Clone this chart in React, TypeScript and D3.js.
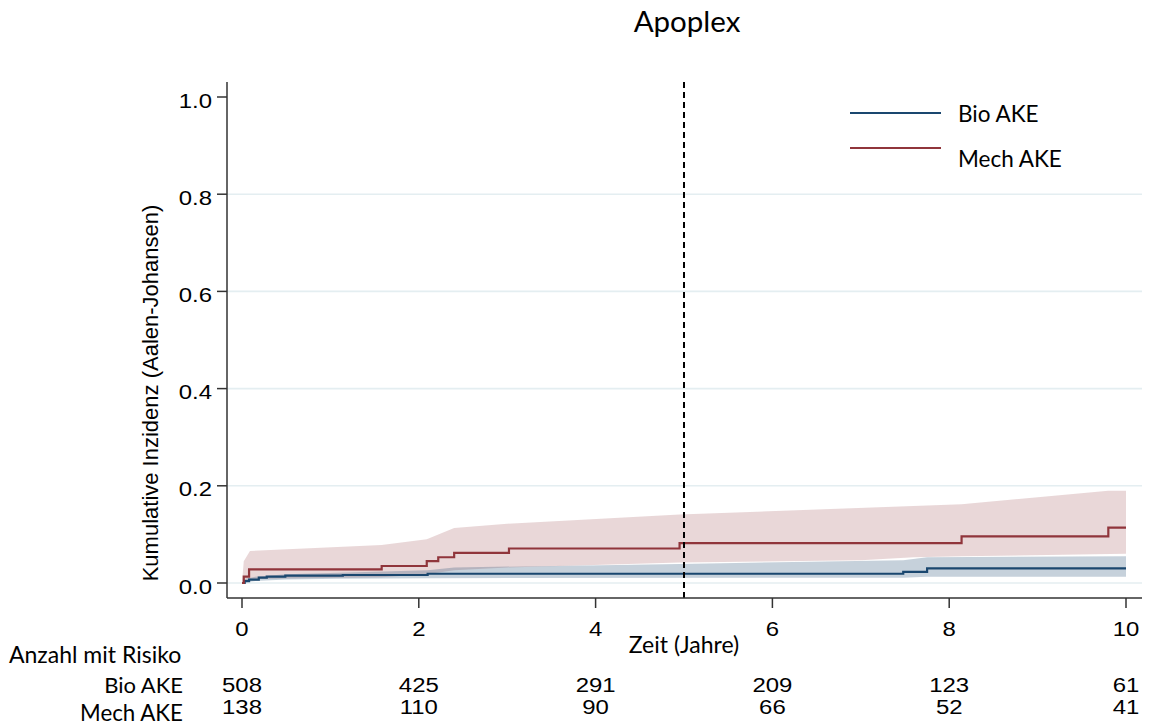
import React from "react";
import * as d3 from "d3";

// ---------- data ----------
const bioTimes = [0, 0.03, 0.08, 0.19, 0.28, 0.49, 1.14, 2.1, 7.48, 7.75];
const bioCif = [0, 0.004, 0.007, 0.011, 0.013, 0.015, 0.0165, 0.019, 0.023, 0.03];
const mechTimes = [0, 0.02, 0.08, 1.58, 2.09, 2.22, 2.4, 3.02, 4.95, 8.14, 9.8];
const mechCif = [0, 0.013, 0.028, 0.035, 0.045, 0.053, 0.062, 0.071, 0.082, 0.096, 0.114];

const mechUpperT = [0, 0.02, 0.09, 1.58, 2.09, 2.4, 3.0, 4.95, 8.14, 9.8, 10];
const mechUpper = [0, 0.045, 0.066, 0.078, 0.09, 0.113, 0.122, 0.141, 0.162, 0.19, 0.19];
const mechLowerT = [0, 0.02, 0.09, 1.58, 2.09, 2.4, 3.0, 4.95, 7.0, 7.6, 8.14, 10];
const mechLower = [0, 0.002, 0.008, 0.012, 0.018, 0.026, 0.032, 0.042, 0.047, 0.053, 0.055, 0.06];

const bioUpperT = [0, 0.03, 0.15, 0.5, 1.1, 2.1, 2.4, 4.95, 7.48, 7.75, 10];
const bioUpper = [0, 0.008, 0.013, 0.018, 0.021, 0.026, 0.032, 0.039, 0.047, 0.053, 0.055];
const bioLowerT = [0, 0.03, 0.15, 0.5, 1.1, 2.1, 7.48, 7.75, 10];
const bioLower = [0, 0.001, 0.004, 0.007, 0.009, 0.01, 0.011, 0.013, 0.013];

const xTicks = [0, 2, 4, 6, 8, 10];
const yTicks = [0, 0.2, 0.4, 0.6, 0.8, 1.0];
const gridTicks = [0, 0.2, 0.4, 0.6, 0.8];
const riskBio = [508, 425, 291, 209, 123, 61];
const riskMech = [138, 110, 90, 66, 52, 41];
const refTime = 5;

const BLUE = "#1a476f";
const RED = "#90353b";
const CAL = "Lato, 'Open Sans', sans-serif";
const ARIAL = "'Liberation Sans', Arial, sans-serif";
const SX = 1.14;

function SText(props: {
  x: number;
  y: number;
  anchor?: "start" | "middle" | "end";
  size: number;
  font: string;
  sx?: number;
  children: React.ReactNode;
}) {
  const { x, y, anchor = "start", size, font, sx = 1, children } = props;
  return (
    <g transform={`translate(${x},${y}) scale(${sx},1)`}>
      <text x={0} y={0} textAnchor={anchor} fontFamily={font} fontSize={size} fill="#000">
        {children}
      </text>
    </g>
  );
}

export default function App() {
  const x = d3.scaleLinear().domain([0, 10]).range([242, 1126]);
  const y = d3.scaleLinear().domain([0, 1]).range([583, 97]);
  const axisY = 598;
  const axisX = 227;

  const stepLine = (ts: number[], vs: number[]) => {
    const pts: [number, number][] = ts.map((t, i) => [t, vs[i]]);
    pts.push([10, vs[vs.length - 1]]);
    return d3
      .line<[number, number]>()
      .x((d) => x(d[0]))
      .y((d) => y(d[1]))
      .curve(d3.curveStepAfter)(pts) as string;
  };

  const band = (ut: number[], u: number[], lt: number[], l: number[]) => {
    const up = ut.map((t, i) => [x(t), y(u[i])]);
    const lo = lt.map((t, i) => [x(t), y(l[i])]).reverse();
    return "M" + up.concat(lo).map((p) => p.join(",")).join("L") + "Z";
  };

  return (
    <svg
      width={1149}
      height={728}
      style={{ position: "absolute", left: 0, top: 0, background: "#fff" }}
    >
      <rect width={1149} height={728} fill="#fff" />
      <SText x={687} y={32} anchor="middle" size={29.5} font={CAL}>
        Apoplex
      </SText>

      {gridTicks.map((t) => (
        <line key={t} x1={axisX} x2={1142} y1={y(t)} y2={y(t)} stroke="#e4eef1" strokeWidth={1.6} />
      ))}

      <path d={band(mechUpperT, mechUpper, mechLowerT, mechLower)} fill={RED} fillOpacity={0.2} />
      <path d={band(bioUpperT, bioUpper, bioLowerT, bioLower)} fill={BLUE} fillOpacity={0.25} />

      <path d={stepLine(bioTimes, bioCif)} fill="none" stroke={BLUE} strokeWidth={2.2} />
      <path d={stepLine(mechTimes, mechCif)} fill="none" stroke={RED} strokeWidth={2.2} />

      <line x1={x(refTime)} x2={x(refTime)} y1={82} y2={axisY} stroke="#000" strokeWidth={2} strokeDasharray="6,4" />

      {/* axes */}
      <line x1={axisX} x2={axisX} y1={82} y2={axisY} stroke="#333" strokeWidth={1.5} />
      <line x1={axisX} x2={1142} y1={axisY} y2={axisY} stroke="#333" strokeWidth={1.5} />
      {yTicks.map((t) => (
        <g key={t}>
          <line x1={axisX - 10} x2={axisX} y1={y(t)} y2={y(t)} stroke="#333" strokeWidth={1.5} />
          <SText x={212} y={y(t) + 10.5} anchor="end" size={21} font={ARIAL} sx={SX}>
            {t.toFixed(1)}
          </SText>
        </g>
      ))}
      {xTicks.map((t) => (
        <g key={t}>
          <line x1={x(t)} x2={x(t)} y1={axisY} y2={axisY + 10} stroke="#333" strokeWidth={1.5} />
          <SText x={x(t)} y={636} anchor="middle" size={21} font={ARIAL} sx={SX}>
            {t}
          </SText>
        </g>
      ))}
      <SText x={684} y={653} anchor="middle" size={23} font={CAL}>
        Zeit (Jahre)
      </SText>
      <text
        transform={`translate(158,393) rotate(-90)`}
        textAnchor="middle"
        fontFamily={ARIAL}
        fontSize={22}
        fill="#000"
      >
        Kumulative Inzidenz (Aalen-Johansen)
      </text>

      {/* legend */}
      <line x1={850} x2={941} y1={113} y2={113} stroke={BLUE} strokeWidth={2.2} />
      <SText x={958} y={122} size={22.5} font={CAL}>
        Bio AKE
      </SText>
      <line x1={850} x2={941} y1={148} y2={148} stroke={RED} strokeWidth={2.2} />
      <SText x={958} y={167} size={22.5} font={CAL}>
        Mech AKE
      </SText>

      {/* risk table */}
      <SText x={9} y={663} size={23} font={CAL}>
        Anzahl mit Risiko
      </SText>
      <SText x={183} y={693} anchor="end" size={22} font={CAL}>
        Bio AKE
      </SText>
      <SText x={183} y={721} anchor="end" size={22.3} font={CAL}>
        Mech AKE
      </SText>
      {xTicks.map((t, i) => (
        <g key={t}>
          <SText x={x(t)} y={691.5} anchor="middle" size={21} font={ARIAL} sx={SX}>
            {riskBio[i]}
          </SText>
          <SText x={x(t)} y={714} anchor="middle" size={21} font={ARIAL} sx={SX}>
            {riskMech[i]}
          </SText>
        </g>
      ))}
    </svg>
  );
}
